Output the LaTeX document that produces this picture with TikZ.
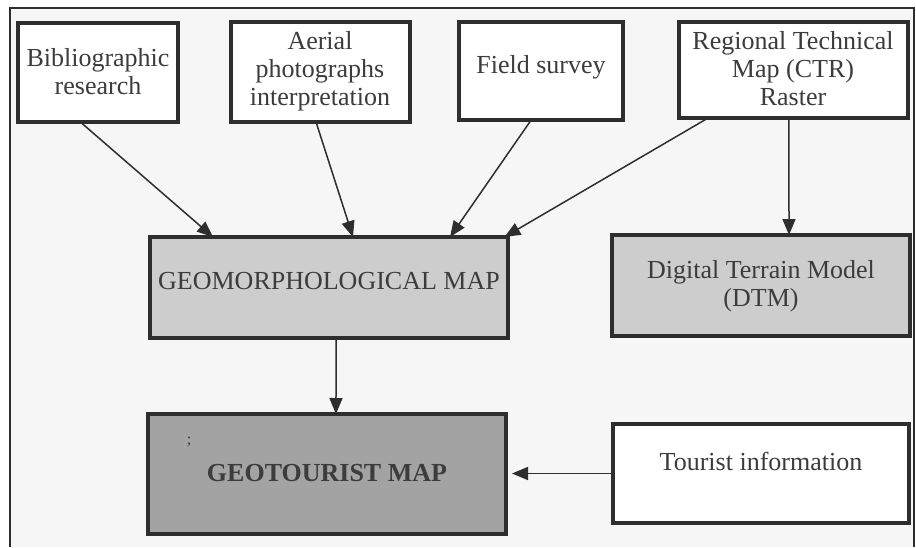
\documentclass[tikz,border=0pt]{standalone}
\usepackage{fontspec}
\setmainfont{Liberation Serif}
\usetikzlibrary{arrows.meta,calc}
\definecolor{ink}{HTML}{2E2E2E}
\definecolor{txt}{HTML}{3C3C3C}
\definecolor{paper}{HTML}{F6F6F6}
\definecolor{lightfill}{HTML}{CDCDCD}
\definecolor{darkfill}{HTML}{A3A3A3}
\begin{document}
\begin{tikzpicture}[x=1pt,y=-1pt,
  box/.style={draw=ink, line width=3.2pt, inner sep=0pt, outer sep=0pt, anchor=north west},
  lbl/.style={text=txt, font=\fontsize{26}{28}\selectfont, align=center, inner sep=0pt},
  conn/.style={draw=ink, line width=1.5pt, -{Triangle[length=16pt,width=13pt]}}]
\useasboundingbox (0,0) rectangle (916,547);
\fill[white] (0,0) rectangle (916,547);
\fill[paper] (10,8) rectangle (914,547);
\draw[ink, line width=1.6pt] (10,547) -- (10,8) -- (914,8) -- (914,547);

% top row
\node[box, fill=white, minimum width=160pt, minimum height=99pt] (bib) at (18,23) {};
\node[box, fill=white, minimum width=179pt, minimum height=100pt] (aer) at (231,22) {};
\node[box, fill=white, minimum width=164pt, minimum height=98pt] (fld) at (459,22) {};
\node[box, fill=white, minimum width=229pt, minimum height=96pt] (ctr) at (679,22) {};
% middle row
\node[box, fill=lightfill, minimum width=358pt, minimum height=101pt] (geo) at (150,237) {};
\node[box, fill=lightfill, minimum width=298pt, minimum height=101pt] (dtm) at (612,235) {};
% bottom row
\node[box, fill=darkfill, minimum width=358pt, minimum height=120pt] (geot) at (148,414) {};
\node[box, fill=white, minimum width=296pt, minimum height=99pt] (tour) at (613,424) {};

% texts
\node[lbl] (tbib) at (98,72) {Bibliographic\\research};
\node[lbl] (taer) at (320,71) {Aerial\\photographs\\interpretation};
\node[lbl] (tfld) at (541,67) {Field survey};
\node[lbl] (tctr) at (793,69) {Regional Technical\\Map (CTR)\\Raster};
\node[lbl] (tgeo) at (329,281) {GEOMORPHOLOGICAL MAP};
\node[lbl] (tdtm) at (761,286) {Digital Terrain Model\\(DTM)};
\node[lbl, font=\bfseries\fontsize{26}{28}\selectfont] (tgeot) at (327,473) {GEOTOURIST MAP};
\node[lbl] (ttour) at (761,461) {Tourist information};
\node[text=txt, font=\fontsize{16}{18}\selectfont, inner sep=0pt] (semi) at (189,442) {;};

% connectors
\draw[conn] ($(bib.south west)!0.39!(bib.south east)$) -- ($(geo.north west)!0.176!(geo.north east)$);
\draw[conn] ($(aer.south west)!0.475!(aer.south east)$) -- ($(geo.north west)!0.567!(geo.north east)$);
\draw[conn] ($(fld.south west)!0.44!(fld.south east)$) -- ($(geo.north west)!0.838!(geo.north east)$);
\draw[conn] ($(ctr.south west)!0.127!(ctr.south east)$) -- ($(geo.north west)!0.99!(geo.north east)$);
\draw[conn] ($(ctr.south west)!0.48!(ctr.south east)$) -- ($(dtm.north west)!0.594!(dtm.north east)$);
\draw[conn] ($(geo.south west)!0.52!(geo.south east)$) -- ($(geot.north west)!0.525!(geot.north east)$);
\draw[conn, shorten >=6pt] (tour.west) -- (tour.west -| geot.east);
\end{tikzpicture}
\end{document}
